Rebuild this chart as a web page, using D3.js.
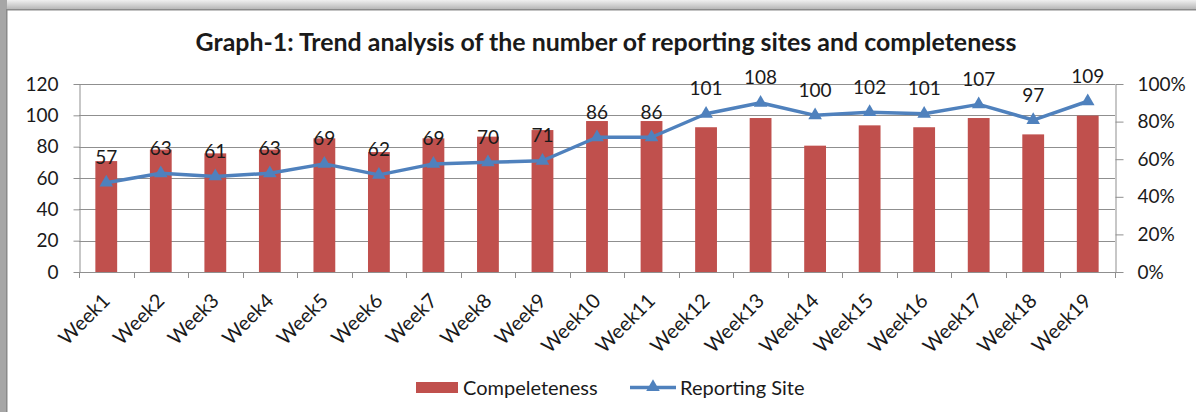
<!DOCTYPE html>
<html>
<head>
<meta charset="utf-8">
<script src="https://cdn.jsdelivr.net/npm/d3@7"></script>
<style>
  html, body { margin: 0; padding: 0; background: #fff; }
  svg { display: block; }
  text { font-family: "Lato", "Liberation Sans", sans-serif; fill: #1a1a1a; }
</style>
</head>
<body>
<svg id="chart" width="1196" height="412"></svg>
<script>
// ---- data ----
const weeks = ["Week1","Week2","Week3","Week4","Week5","Week6","Week7","Week8","Week9","Week10",
               "Week11","Week12","Week13","Week14","Week15","Week16","Week17","Week18","Week19"];
const reportingSites = [57,63,61,63,69,62,69,70,71,86,86,101,108,100,102,101,107,97,109];
const completeness = [0.59,0.651,0.631,0.651,0.711,0.638,0.711,0.72,0.755,0.803,0.803,0.77,0.819,0.672,0.78,0.77,0.819,0.732,0.832];
const leftTicks = [0,20,40,60,80,100,120];
const rightTicks = [0,0.2,0.4,0.6,0.8,1.0];
const titleText = "Graph-1: Trend analysis of the number of reporting sites and completeness";
const seriesNames = ["Compeleteness", "Reporting Site"];

const barColor = "#C0504D";
const lineColor = "#4F81BD";
const gridColor = "#8f8f8f";
const FONT = '"Lato", "Liberation Sans", sans-serif';

const svg = d3.select("#chart");
const W = 1196, H = 412;
const plot = { left: 79, right: 1115, top: 84, bottom: 272 };

// window-like frame
const defs = svg.append("defs");
const g1 = defs.append("linearGradient").attr("id","topg").attr("x1",0).attr("y1",0).attr("x2",0).attr("y2",1);
g1.append("stop").attr("offset","0%").attr("stop-color","#f0f0f0");
g1.append("stop").attr("offset","100%").attr("stop-color","#b8b8b8");
svg.append("rect").attr("x",0).attr("y",0).attr("width",W).attr("height",H).attr("fill","#fff");
svg.append("rect").attr("x",0).attr("y",0).attr("width",W).attr("height",9).attr("fill","url(#topg)");
svg.append("rect").attr("x",0).attr("y",9).attr("width",W).attr("height",1.5).attr("fill","#8a8a8a");
svg.append("rect").attr("x",0).attr("y",0).attr("width",7).attr("height",H).attr("fill","#a6a6a6");
svg.append("rect").attr("x",6).attr("y",9).attr("width",1.5).attr("height",H).attr("fill","#8a8a8a");

// scales
const x = d3.scaleBand().domain(weeks).range([plot.left, plot.right]).paddingInner(0.6).paddingOuter(0.3);
const y = d3.scaleLinear().domain([0,120]).range([plot.bottom, plot.top]);
const y2 = d3.scaleLinear().domain([0,1]).range([plot.bottom, plot.top]);

// title
const title = svg.append("text").attr("x", 606).attr("y", 51).attr("text-anchor","middle")
  .attr("font-weight","bold").attr("font-size", 21).text(titleText);
const tw = title.node().getComputedTextLength();
title.attr("font-size", 21 * 821 / tw);

// gridlines
svg.append("g").selectAll("line").data(leftTicks.slice(1)).join("line")
  .attr("x1", plot.left).attr("x2", plot.right)
  .attr("y1", d => Math.round(y(d)) + 0.5).attr("y2", d => Math.round(y(d)) + 0.5)
  .attr("stroke", gridColor).attr("stroke-width", 1);

// bars (completeness, secondary axis)
svg.append("g").selectAll("rect").data(weeks).join("rect")
  .attr("x", d => x(d)).attr("width", x.bandwidth())
  .attr("y", (d,i) => y2(completeness[i]))
  .attr("height", (d,i) => y2(0) - y2(completeness[i]))
  .attr("fill", barColor);

// left axis
const axL = svg.append("g").attr("transform", `translate(${plot.left + 0.5},0)`)
  .call(d3.axisLeft(y).tickValues(leftTicks).tickSize(6).tickPadding(15).tickSizeOuter(0));
// right axis
const axR = svg.append("g").attr("transform", `translate(${plot.right + 0.5},0)`)
  .call(d3.axisRight(y2).tickValues(rightTicks).tickFormat(d3.format(".0%")).tickSize(8).tickPadding(14).tickSizeOuter(0));
[axL, axR].forEach(a => {
  a.select(".domain").attr("stroke", gridColor);
  a.selectAll(".tick line").attr("stroke", gridColor);
  a.selectAll(".tick text").attr("font-size", 19).attr("fill", "#1a1a1a")
    .style("font-family", FONT);
});

// bottom axis line and ticks at band boundaries
const step = x.step();
const boundaries = d3.range(weeks.length + 1).map(i => plot.left + i * step);
const axB = svg.append("g");
axB.append("line").attr("x1", plot.left).attr("x2", plot.right + 8)
  .attr("y1", plot.bottom + 0.5).attr("y2", plot.bottom + 0.5).attr("stroke", gridColor);
axB.selectAll("line.tk").data(boundaries).join("line").attr("class","tk")
  .attr("x1", d => Math.round(d) + 0.5).attr("x2", d => Math.round(d) + 0.5)
  .attr("y1", plot.bottom).attr("y2", plot.bottom + 6).attr("stroke", gridColor);

// x labels rotated
axB.selectAll("text").data(weeks).join("text")
  .attr("text-anchor","end").attr("font-size", 20)
  .attr("transform", d => `translate(${x(d) + x.bandwidth()/2 + 5},${plot.bottom + 30}) rotate(-45)`)
  .text(d => d);

// line (reporting sites, primary axis)
const cx = d => x(d) + x.bandwidth() / 2;
const line = d3.line().x((d,i) => cx(weeks[i])).y(d => y(d));
svg.append("path").datum(reportingSites).attr("d", line)
  .attr("fill","none").attr("stroke", lineColor).attr("stroke-width", 3.5).attr("stroke-linejoin","round");
const tri = d3.symbol().type(d3.symbolTriangle).size(80);
svg.append("g").selectAll("path").data(reportingSites).join("path")
  .attr("d", tri).attr("fill", lineColor)
  .attr("transform", (d,i) => `translate(${cx(weeks[i])},${y(d)})`);

// data labels
svg.append("g").selectAll("text").data(reportingSites).join("text")
  .attr("x", (d,i) => cx(weeks[i])).attr("y", d => y(d) - 18.5)
  .attr("text-anchor","middle").attr("font-size", 19).text(d => d);

// legend
const lg = svg.append("g");
lg.append("rect").attr("x", 416).attr("y", 382).attr("width", 42).attr("height", 11).attr("fill", barColor);
lg.append("text").attr("x", 463).attr("y", 395).attr("font-size", 20).text(seriesNames[0]);
lg.append("line").attr("x1", 630).attr("x2", 676).attr("y1", 387.5).attr("y2", 387.5)
  .attr("stroke", lineColor).attr("stroke-width", 3.5);
lg.append("path").attr("d", tri).attr("fill", lineColor).attr("transform", "translate(653,387)");
lg.append("text").attr("x", 680).attr("y", 395).attr("font-size", 20).text(seriesNames[1]);
</script>
</body>
</html>
